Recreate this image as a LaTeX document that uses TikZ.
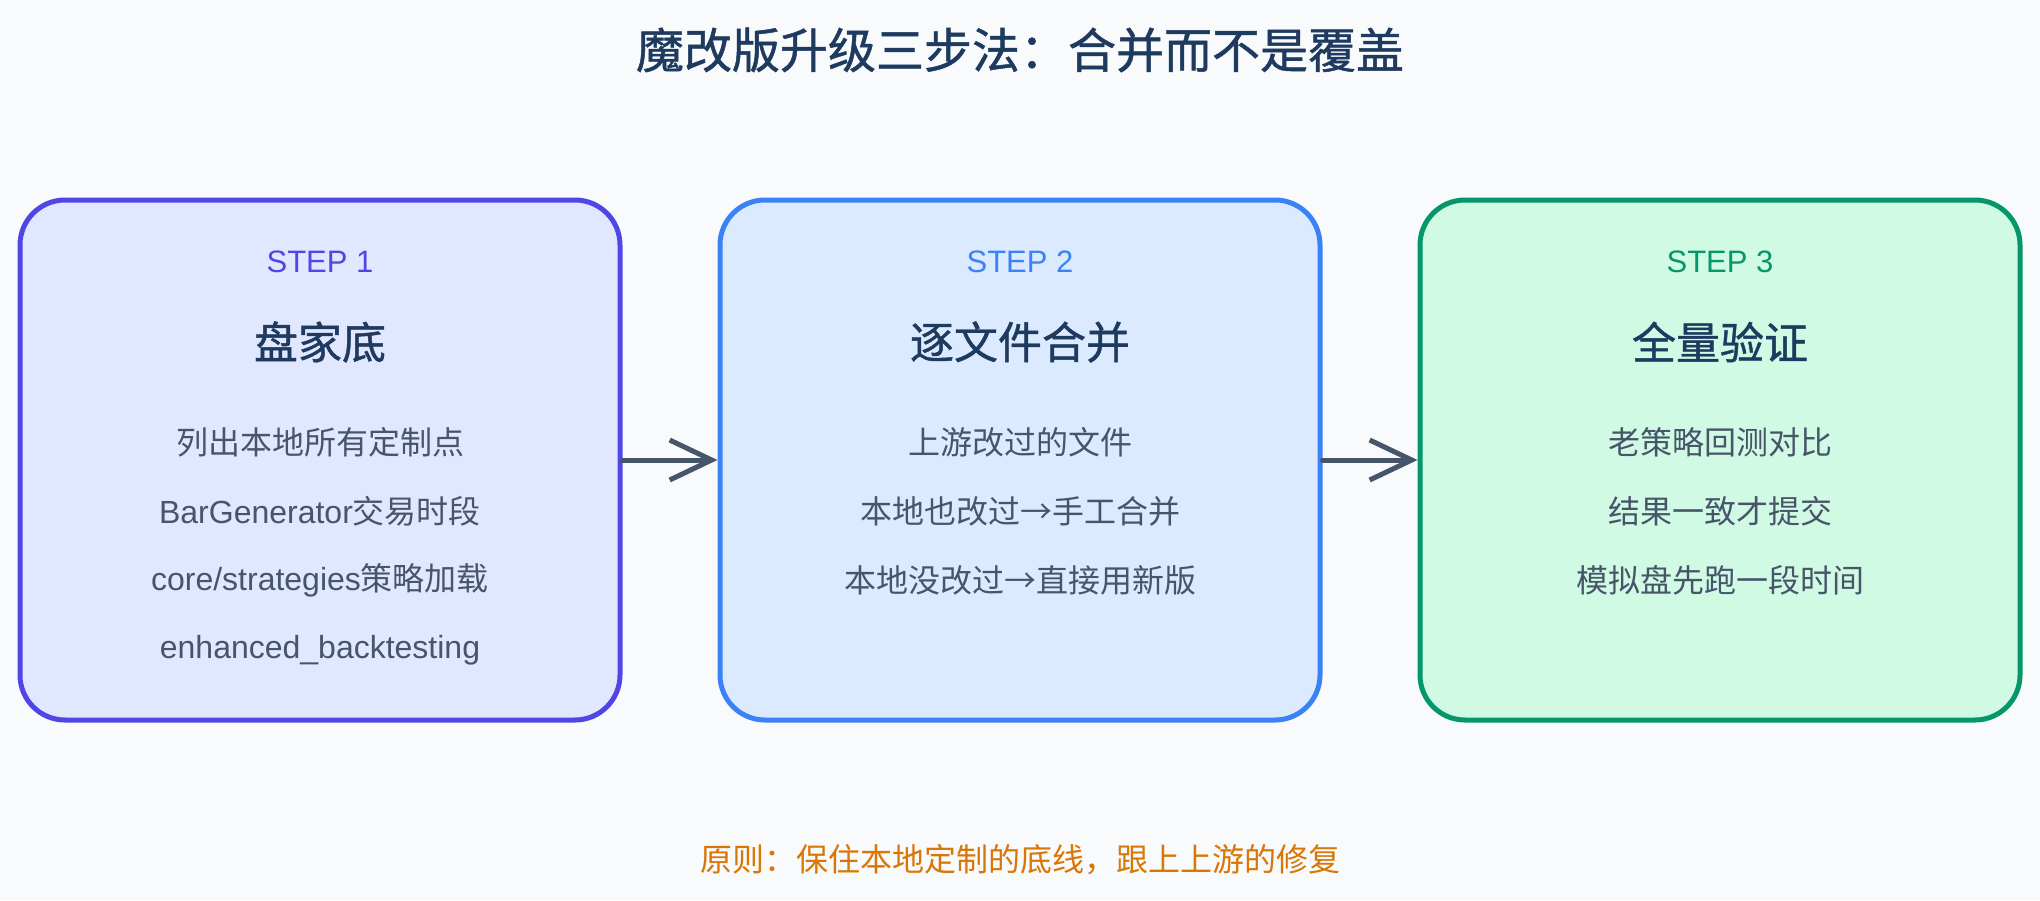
\documentclass[tikz,border=0pt]{standalone}
\usepackage{fontspec}
\setmainfont{Noto Sans CJK SC}
\newfontfamily\lat{Liberation Sans}
\newfontfamily\cjkmed{Noto Sans CJK SC}[FakeBold=1]
\usetikzlibrary{arrows.meta}
\definecolor{bgc}{HTML}{F8FAFC}
\definecolor{titlec}{HTML}{1E3A5F}
\definecolor{bodyc}{HTML}{475569}
\definecolor{arrowc}{HTML}{475569}
\definecolor{footc}{HTML}{D97706}
\definecolor{s1d}{HTML}{4F46E5}
\definecolor{s1f}{HTML}{E0E7FF}
\definecolor{s2d}{HTML}{3B82F6}
\definecolor{s2f}{HTML}{DBEAFE}
\definecolor{s3d}{HTML}{059669}
\definecolor{s3f}{HTML}{D1FAE5}
\begin{document}
\begin{tikzpicture}[x=1pt,y=-1pt,
  stepbox/.style={draw, line width=5pt, rounded corners=45pt, minimum width=600pt, minimum height=520pt, inner sep=0pt},
  steplbl/.style={inner sep=0pt, font=\lat\fontsize{31}{36}\selectfont},
  headlbl/.style={inner sep=0pt, text=titlec, font=\cjkmed\fontsize{44}{50}\selectfont},
  bodylbl/.style={inner sep=0pt, text=bodyc, font=\fontsize{32}{38}\selectfont},
  flow/.style={draw=arrowc, line width=5pt, line cap=round, -{Straight Barb[length=42pt,width=40pt,line width=5pt]}}
]
\fill[bgc] (0,0) rectangle (2040,900);
\useasboundingbox (0,0) rectangle (2040,900);

\node[inner sep=0pt, text=titlec, font=\cjkmed\fontsize{48}{56}\selectfont] (title) at (1020,50) {魔改版升级三步法：合并而不是覆盖};

\node[stepbox, draw=s1d, fill=s1f] (b1) at (320,460) {};
\node[stepbox, draw=s2d, fill=s2f] (b2) at (1020,460) {};
\node[stepbox, draw=s3d, fill=s3f] (b3) at (1720,460) {};

% box 1
\node[steplbl, text=s1d] (s1) at (320,262) {STEP 1};
\node[headlbl] (h1) at (320,342) {盘家底};
\node[bodylbl] (l11) at (320,442) {列出本地所有定制点};
\node[bodylbl] (l12) at (320,511) {{\lat BarGenerator}交易时段};
\node[bodylbl] (l13) at (320,580) {{\lat core/strategies}策略加载};
\node[bodylbl] (l14) at (320,650) {\lat enhanced\_backtesting};

% box 2
\node[steplbl, text=s2d] (s2) at (1020,262) {STEP 2};
\node[headlbl] (h2) at (1020,342) {逐文件合并};
\node[bodylbl] (l21) at (1020,442) {上游改过的文件};
\node[bodylbl] (l22) at (1020,511) {本地也改过→手工合并};
\node[bodylbl] (l23) at (1020,580) {本地没改过→直接用新版};

% box 3
\node[steplbl, text=s3d] (s3) at (1720,262) {STEP 3};
\node[headlbl] (h3) at (1720,342) {全量验证};
\node[bodylbl] (l31) at (1720,442) {老策略回测对比};
\node[bodylbl] (l32) at (1720,511) {结果一致才提交};
\node[bodylbl] (l33) at (1720,580) {模拟盘先跑一段时间};

\draw[flow] (b1.east) -- (b2.west);
\draw[flow] (b2.east) -- (b3.west);

\node[inner sep=0pt, text=footc, font=\fontsize{32}{38}\selectfont] (foot) at (1020,860) {原则：保住本地定制的底线，跟上上游的修复};
\end{tikzpicture}
\end{document}
